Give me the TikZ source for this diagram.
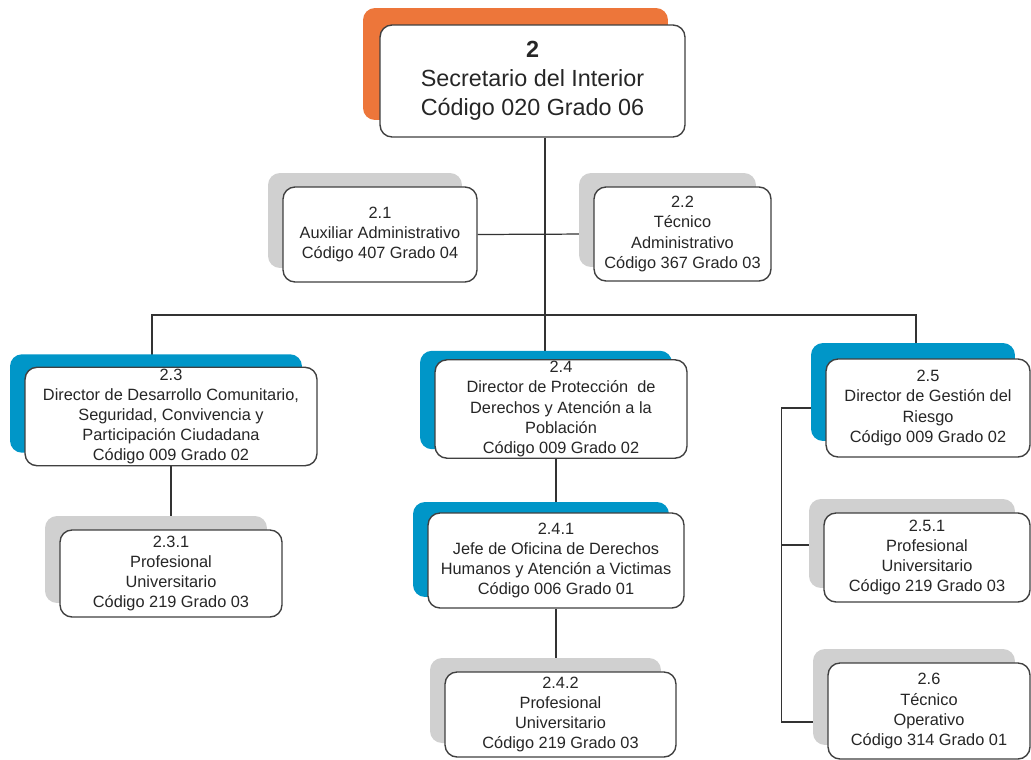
\documentclass[tikz,border=0pt]{standalone}
\usepackage{fontspec}
\setmainfont{Liberation Sans}
\usetikzlibrary{shadows}
\pgfdeclarelayer{background}
\pgfsetlayers{background,main}
\definecolor{headorange}{RGB}{237,118,58}
\definecolor{dirblue}{RGB}{0,150,200}
\definecolor{staffgray}{RGB}{208,208,208}
\tikzset{post/.style={rectangle,draw=black!75,line width=0.8pt,fill=white,text=black!85,rounded corners=0.24cm,align=center,inner sep=1pt,font=\fontsize{9.3}{11.4}\selectfont},
         head/.style={post,font=\fontsize{13.3}{16.4}\selectfont,general shadow={fill=headorange,shadow xshift=-0.34cm,shadow yshift=0.34cm}},
         director/.style={post,general shadow={fill=dirblue,shadow xshift=-0.3cm,shadow yshift=#1}},
         director/.default=0.26cm,
         staff/.style={post,general shadow={fill=staffgray,shadow xshift=-0.3cm,shadow yshift=0.28cm}},
         link/.style={draw=black!80,line width=0.7pt}}
\begin{document}
\begin{tikzpicture}[x=0.02cm,y=-0.02cm]
    \useasboundingbox (0,0) rectangle (1031,760);
    \clip (0,0) rectangle (1031,760);
    % Despacho
    \node (top) [head, minimum width=6.1cm, minimum height=2.24cm] at (532.5,81) {\textbf{2}\\Secretario del Interior\\Código 020 Grado 06};
    \node (b21) [staff, minimum width=3.88cm, minimum height=1.9cm] at (380,234.5) {2.1\\Auxiliar Administrativo\\Código 407 Grado 04};
    \node (b22) [staff, minimum width=3.54cm, minimum height=1.88cm] at (682.5,234) {2.2\\Técnico\\Administrativo\\Código 367 Grado 03};
    % Direcciones
    \node (b23) [director, minimum width=5.84cm, minimum height=1.94cm] at (171,416.5) {2.3\\Director de Desarrollo Comunitario,\\Seguridad, Convivencia y\\Participación Ciudadana\\Código 009 Grado 02};
    \node (b24) [director=0.18cm, minimum width=5.04cm, minimum height=1.96cm] at (561,409) {2.4\\Director de Protección\ \ de\\Derechos y Atención a la\\Población\\Código 009 Grado 02};
    \node (b25) [director=0.32cm, minimum width=4.08cm, minimum height=1.96cm] at (928,408) {2.5\\Director de Gestión del\\Riesgo\\Código 009 Grado 02};
    % Dependientes
    \node (b231) [staff, minimum width=4.44cm, minimum height=1.74cm] at (171,573.5) {2.3.1\\Profesional\\Universitario\\Código 219 Grado 03};
    \node (b241) [director=0.22cm, minimum width=5.12cm, minimum height=1.9cm] at (556,560.5) {2.4.1\\Jefe de Oficina de Derechos\\Humanos y Atención a Victimas\\Código 006 Grado 01};
    \node (b242) [staff, minimum width=4.62cm, minimum height=1.7cm] at (560.5,714.5) {2.4.2\\Profesional\\Universitario\\Código 219 Grado 03};
    \node (b251) [staff, minimum width=4.12cm, minimum height=1.78cm] at (927,557.5) {2.5.1\\Profesional\\Universitario\\Código 219 Grado 03};
    \node (b26) [staff, minimum width=4.04cm, minimum height=1.92cm] at (929,711) {2.6\\Técnico\\Operativo\\Código 314 Grado 01};
    % Lineas
    \begin{pgfonlayer}{background}
    \fill[white] (0,0) rectangle (1031,760);
    \coordinate (hub) at (545,315);
    \draw[link] (top.south -| hub) -- (hub);
    \draw[link] (b21.east) -- (b22.west);
    \draw[link] ([xshift=-0.38cm]b23.center) |- (hub) -| ([xshift=-0.24cm]b25.center);
    \draw[link] (hub) -- (hub |- b24.center);
    \draw[link] (b23) -- (b231);
    \draw[link] (b24.center -| b241) -- (b241) -- (b241 |- b242.center);
    \draw[link] (b25.west) -- ++(-44,0) coordinate (side) |- ([yshift=-0.22cm]b26.west);
    \draw[link] (side) |- ([yshift=0.25cm]b251.west);
    \end{pgfonlayer}
\end{tikzpicture}
\end{document}
